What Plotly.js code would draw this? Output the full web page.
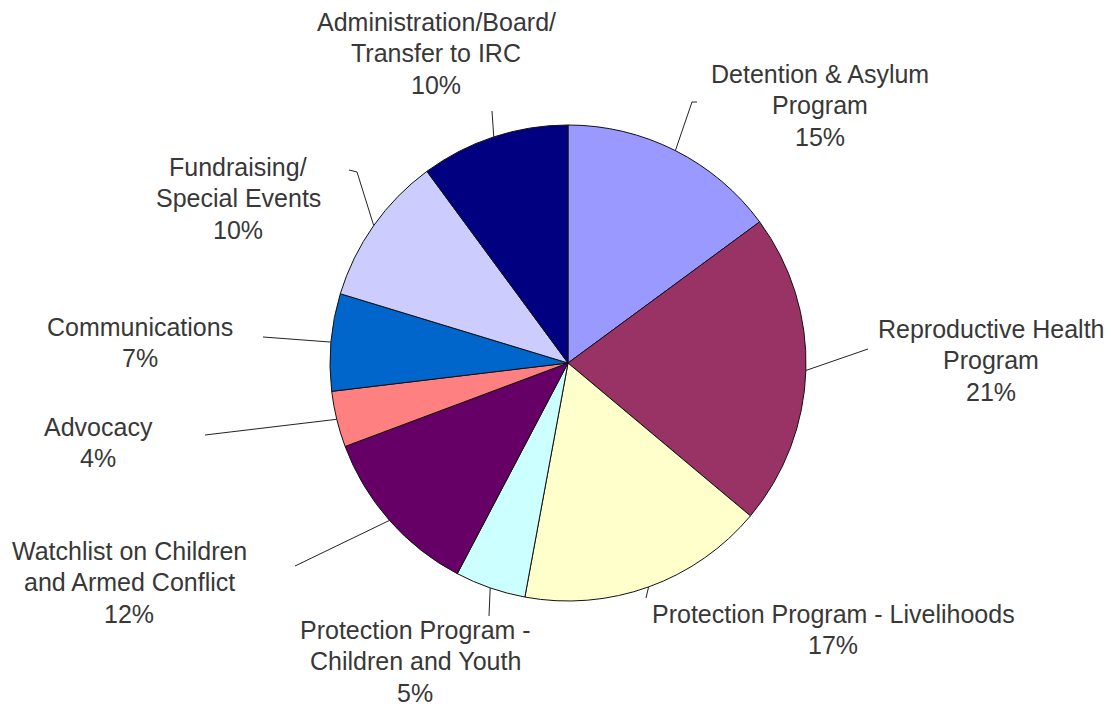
<!DOCTYPE html>
<html>
<head>
<meta charset="utf-8">
<script src="https://cdn.plot.ly/plotly-3.0.1.min.js"></script>
<style>html,body{margin:0;padding:0;background:#fff;}#chart{width:1111px;height:706px;}</style>
</head>
<body>
<div id="chart"></div>
<script>
// ---- data ----
const categories = [
  "Detention & Asylum\nProgram",
  "Reproductive Health\nProgram",
  "Protection Program - Livelihoods",
  "Protection Program -\nChildren and Youth",
  "Watchlist on Children\nand Armed Conflict",
  "Advocacy",
  "Communications",
  "Fundraising/\nSpecial Events",
  "Administration/Board/\nTransfer to IRC"
];
const values = [14.9, 21.2, 16.8, 4.8, 11.6, 3.8, 6.6, 10.2, 10.1];
const colors = ["#9999FF", "#993366", "#FFFFCC", "#CCFFFF", "#660066", "#FF8080", "#0066CC", "#CCCCFF", "#000080"];

// ---- layout (pixels) ----
const W = 1111, H = 706;
const CX = 568, CY = 363, R = 238;
// label block: center x, first-line center y
const labelPos = [
  [820, 74], [991, 329], [833, 614], [415, 630], [129, 551],
  [98, 427], [140, 327], [238, 167], [436, 22]
];
// leader line end points (after leaving the slice edge)
const leaderEnds = [
  [[692, 102], [697, 102]],
  [[868, 349]],
  [[646, 598]],
  [[489, 616]],
  [[295, 566]],
  [[205, 435]],
  [[263, 337]],
  [[357, 172], [349, 170]],
  [[492, 111]]
];
const LINE_H = 31.3;
const FONT = {family: "Liberation Sans, Arial, sans-serif", size: 25, color: "#383838"};

const px = x => x / W;
const py = y => 1 - y / H;

const total = values.reduce((a, b) => a + b, 0);
const annotations = [];
const shapes = [];
let cum = 0;
values.forEach((v, i) => {
  const mid = (cum + v / 2) / total * 2 * Math.PI;
  cum += v;
  const sx = CX + R * Math.sin(mid), sy = CY - R * Math.cos(mid);
  let path = `M${px(sx)},${py(sy)}`;
  leaderEnds[i].forEach(p => { path += ` L${px(p[0])},${py(p[1])}`; });
  shapes.push({type: "path", xref: "paper", yref: "paper", path: path,
               line: {color: "#222222", width: 1}});
  const lines = categories[i].split("\n").concat([Math.round(v / total * 100) + "%"]);
  lines.forEach((t, k) => {
    annotations.push({
      text: t, showarrow: false, xref: "paper", yref: "paper",
      x: px(labelPos[i][0]), y: py(labelPos[i][1] + k * LINE_H),
      xanchor: "center", yanchor: "middle", font: FONT, borderpad: 0
    });
  });
});

const trace = {
  type: "pie",
  values: values,
  labels: categories.map(c => c.replace(/\n/g, " ")),
  marker: {colors: colors, line: {color: "#111111", width: 1}},
  sort: false,
  direction: "clockwise",
  rotation: 0,
  textinfo: "none",
  hoverinfo: "label+percent",
  showlegend: false,
  domain: {x: [px(CX - R), px(CX + R)], y: [py(CY + R), py(CY - R)]}
};

const layout = {
  width: W, height: H,
  margin: {l: 0, r: 0, t: 0, b: 0},
  paper_bgcolor: "#ffffff",
  showlegend: false,
  annotations: annotations,
  shapes: shapes
};

Plotly.newPlot("chart", [trace], layout, {displayModeBar: false, staticPlot: true});
</script>
</body>
</html>
